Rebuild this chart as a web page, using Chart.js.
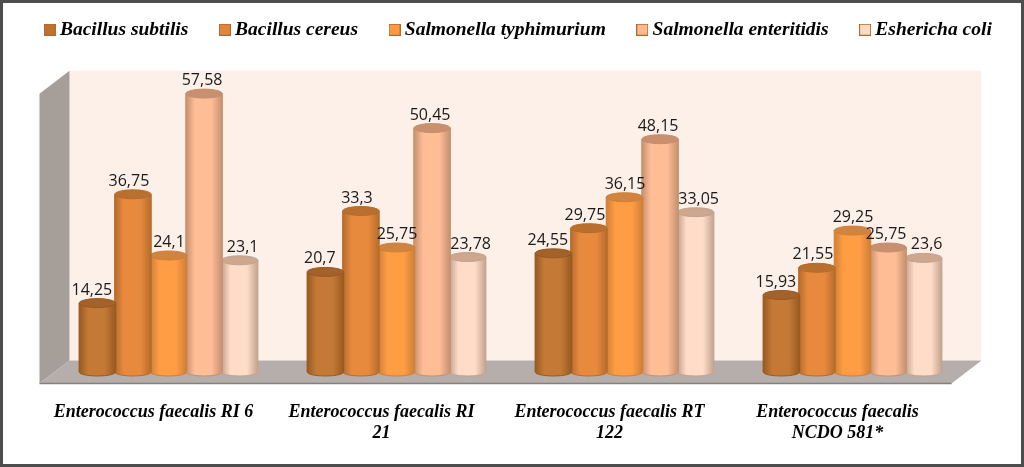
<!DOCTYPE html>
<html>
<head>
<meta charset="utf-8">
<style>
html, body { margin: 0; padding: 0; background: #fff; }
#wrap { position: relative; width: 1024px; height: 467px; }
</style>
<script src="https://cdn.jsdelivr.net/npm/chart.js@4/dist/chart.umd.min.js"></script>
</head>
<body>
<div id="wrap"><canvas id="chart" width="1024" height="467"></canvas></div>
<script>
const categories = [
    ['Enterococcus faecalis RI 6'],
    ['Enterococcus faecalis RI', '21'],
    ['Enterococcus faecalis RT', '122'],
    ['Enterococcus faecalis', 'NCDO 581*'],
];
const seriesNames = ['Bacillus subtilis', 'Bacillus cereus', 'Salmonella typhimurium', 'Salmonella enteritidis', 'Eshericha coli'];
const bacillusSubtilis = [14.25, 20.7, 24.55, 15.93];
const bacillusCereus = [36.75, 33.3, 29.75, 21.55];
const salmonellaTyphimurium = [24.1, 25.75, 36.15, 29.25];
const salmonellaEnteritidis = [57.58, 50.45, 48.15, 25.75];
const eshErichaColi = [23.1, 23.78, 33.05, 23.6];
const seriesValues = [bacillusSubtilis, bacillusCereus, salmonellaTyphimurium, salmonellaEnteritidis, eshErichaColi];

// per series: legend swatch, cylinder edge, cylinder middle, top cap
const swatchColors = ['#c0702f', '#e0853a', '#ff9b3f', '#ffba90', '#ffdbc3'];
const edgeColors = ['#98591f', '#b56c2c', '#cf7f36', '#c59070', '#c3a38e'];
const midColors = ['#c47a36', '#e88a3e', '#ff9d45', '#ffbd96', '#ffdcc7'];
const capColors = ['#a3622a', '#b9702f', '#d08440', '#c98f6e', '#cda78f'];
const labelNudge = [-5.5, -4, 0.5, -2, 3];

const depthX = 15, depthY = 11.5;

const swatch = (color) => {
    const c = document.createElement('canvas');
    c.width = c.height = 12;
    const g = c.getContext('2d');
    g.fillStyle = color;
    g.fillRect(0, 0, 12, 12);
    g.strokeStyle = '#b06a30';
    g.strokeRect(0.5, 0.5, 11, 11);
    return c;
};

const poly = (ctx, pts, fill) => {
    ctx.beginPath();
    pts.forEach((p, i) => i ? ctx.lineTo(p[0], p[1]) : ctx.moveTo(p[0], p[1]));
    ctx.closePath();
    ctx.fillStyle = fill;
    ctx.fill();
};

const cylinder = {
    id: 'cylinder',
    beforeDraw(chart) {
        const { ctx, width, height } = chart;
        ctx.save();
        ctx.fillStyle = '#fff';
        ctx.fillRect(0, 0, width, height);
        ctx.strokeStyle = '#4d4d4d';
        ctx.lineWidth = 3;
        ctx.strokeRect(1.5, 1.5, width - 3, height - 3);
        ctx.restore();
    },
    beforeDatasetsDraw(chart) {
        // 3D box behind the bars, hung on the chart area
        const { ctx, chartArea: a, scales: { y } } = chart;
        const top = y.getPixelForValue(62.3);
        const back = a.bottom - depthY;
        const front = a.bottom + depthY;
        const l = a.left, r = a.right;
        ctx.save();
        poly(ctx, [[l + depthX, top], [r + depthX, top], [r + depthX, back], [l + depthX, back]], '#fdf0e9');
        poly(ctx, [[l - depthX, top + 2 * depthY], [l + depthX, top], [l + depthX, back], [l - depthX, front]], '#a69e99');
        poly(ctx, [[l - depthX, front], [l + depthX, back], [r + depthX, back], [r - depthX, front]], '#b5aeaa');
        ctx.strokeStyle = '#85807c';
        ctx.lineWidth = 1.5;
        ctx.beginPath();
        ctx.moveTo(l - depthX, front);
        ctx.lineTo(r - depthX, front);
        ctx.stroke();
        ctx.restore();
    },
    beforeDatasetDraw(chart, args) {
        const { ctx } = chart;
        const i = args.index;
        chart.getDatasetMeta(i).data.forEach((bar) => {
            const w = bar.width + 1;
            const x0 = bar.x - w / 2, x1 = bar.x + w / 2;
            const rx = w / 2;
            const grad = ctx.createLinearGradient(x0, 0, x1, 0);
            grad.addColorStop(0, edgeColors[i]);
            grad.addColorStop(0.25, midColors[i]);
            grad.addColorStop(0.7, midColors[i]);
            grad.addColorStop(1, edgeColors[i]);
            ctx.save();
            ctx.beginPath();
            ctx.moveTo(x0, bar.y);
            ctx.lineTo(x0, bar.base);
            ctx.ellipse(bar.x, bar.base, rx, 4, 0, Math.PI, 0, true);
            ctx.lineTo(x1, bar.y);
            ctx.closePath();
            ctx.fillStyle = grad;
            ctx.fill();
            ctx.strokeStyle = edgeColors[i];
            ctx.lineWidth = 1;
            ctx.stroke();
            ctx.beginPath();
            ctx.ellipse(bar.x, bar.y, rx, 4.5, 0, 0, Math.PI * 2);
            ctx.fillStyle = capColors[i];
            ctx.fill();
            ctx.strokeStyle = edgeColors[i];
            ctx.stroke();
            ctx.restore();
        });
        return false;
    },
    afterDatasetsDraw(chart) {
        const { ctx } = chart;
        ctx.save();
        ctx.font = '16px "Open Sans"';
        ctx.fillStyle = '#1a1a1a';
        ctx.textAlign = 'center';
        ctx.textBaseline = 'middle';
        seriesValues.forEach((vals, i) => {
            chart.getDatasetMeta(i).data.forEach((bar, j) => {
                ctx.fillText(String(vals[j]).replace('.', ','), bar.x + labelNudge[i], bar.y - 13);
            });
        });
        ctx.restore();
    },
};

new Chart(document.getElementById('chart'), {
    type: 'bar',
    plugins: [cylinder],
    data: {
        labels: categories,
        datasets: seriesNames.map((name, i) => ({
            label: name,
            data: seriesValues[i],
            backgroundColor: midColors[i],
            borderColor: edgeColors[i],
        })),
    },
    options: {
        responsive: false,
        animation: false,
        datasets: { bar: { categoryPercentage: 0.78, barPercentage: 1 } },
        layout: { padding: { top: -16, right: -17 } },
        plugins: {
            tooltip: { enabled: false },
            legend: {
                position: 'top',
                labels: {
                    usePointStyle: true,
                    boxWidth: 1,
                    boxHeight: 12,
                    padding: 36,
                    color: '#000',
                    font: { family: '"Liberation Serif"', size: 19.5, weight: 'bold', style: 'italic' },
                    generateLabels: () => seriesNames.map((name, i) => ({
                        text: name,
                        pointStyle: swatch(swatchColors[i]),
                        fillStyle: swatchColors[i],
                        datasetIndex: i,
                    })),
                },
            },
        },
        scales: {
            x: {
                grid: { display: false, drawTicks: false },
                border: { display: false },
                ticks: {
                    autoSkip: false,
                    maxRotation: 0,
                    minRotation: 0,
                    padding: 30,
                    labelOffset: -15,
                    color: '#000',
                    font: { family: '"Liberation Serif"', size: 18, weight: 'bold', style: 'italic', lineHeight: 1.17 },
                },
                afterFit(s) { s.height = 95; },
            },
            y: {
                min: 0,
                max: 66.7,
                grid: { display: false },
                border: { display: false },
                ticks: { display: false },
                afterFit(s) { s.width = 54.5; },
            },
            rightPad: {
                position: 'right',
                grid: { display: false },
                border: { display: false },
                ticks: { display: false },
                afterFit(s) { s.width = 74.5; },
            },
        },
    },
});
</script>
</body>
</html>
